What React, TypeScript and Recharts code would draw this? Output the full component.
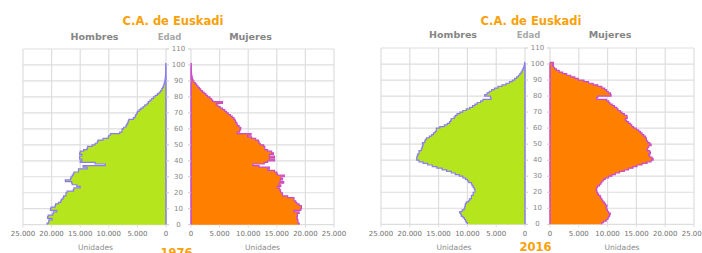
import React from 'react';
import { AreaChart, Area, XAxis, YAxis, CartesianGrid, ReferenceLine } from 'recharts';

// Population by single year of age (index = age, last entry closes the outline)
const hombres1976 = [
  20800, 20500, 20500, 19900, 20700, 20600, 19800, 19700, 19100, 20200,
  20100, 19400, 19300, 18800, 18400, 18300, 18000, 17900, 17500, 17500,
  17300, 16200, 16100, 15000, 15600, 16400, 16500, 17600, 16700, 16600,
  16400, 16200, 16100, 15300, 15300, 13800, 14500, 10600, 12400, 15000,
  14700, 15100, 15100, 14700, 15100, 15000, 14400, 13800, 13700, 12900,
  12400, 12000, 11900, 11000, 10100, 10000, 9700, 8100, 7700, 7700,
  7400, 7000, 6900, 6700, 6600, 6500, 5700, 5400, 5300, 5100,
  5000, 4700, 4400, 4000, 3700, 3300, 3100, 2800, 2500, 2200,
  1900, 1500, 1200, 950, 750, 600, 470, 370, 290, 220,
  170, 130, 100, 75, 55, 40, 28, 18, 10, 6,
  3, 0,
];

const mujeres1976 = [
  18900, 18700, 18700, 18600, 18500, 18600, 18600, 18900, 18000, 19200,
  19300, 19300, 18900, 18500, 18300, 18000, 18000, 16900, 16000, 16000,
  15700, 15600, 15500, 15100, 15700, 15400, 16200, 15600, 16000, 15700,
  16300, 15100, 15000, 14600, 13400, 13700, 11900, 10800, 12800, 13400,
  14600, 13700, 14600, 13700, 14400, 14100, 13400, 12900, 12900, 12700,
  12100, 11900, 11800, 11300, 10600, 9900, 10500, 8100, 8500, 8600,
  8700, 8400, 8100, 8000, 7800, 7700, 7500, 7200, 6900, 6500,
  6200, 5900, 5500, 5100, 4700, 4400, 5500, 3800, 3600, 3300,
  2900, 2600, 2300, 2000, 1700, 1450, 1200, 1000, 750, 500,
  350, 250, 180, 130, 90, 60, 40, 25, 15, 10,
  5, 0,
];

const hombres2016 = [
  10000, 10200, 10340, 10500, 10750, 11040, 11150, 11330, 10920, 10570,
  10460, 10400, 10340, 10170, 9760, 9590, 9300, 9300, 9000, 9000,
  8700, 8700, 8830, 9000, 9180, 9300, 9760, 9990, 10340, 10800,
  11400, 12100, 12800, 13600, 14400, 15300, 16100, 16900, 17700, 18400,
  18800, 18800, 18700, 18600, 18400, 18400, 18000, 17900, 17800, 17700,
  17800, 17400, 17300, 17100, 16600, 16200, 15900, 15600, 15400, 15400,
  14800, 14000, 13500, 13100, 12900, 12800, 12300, 12100, 11800, 11300,
  10800, 10200, 9600, 9100, 8700, 8300, 7700, 7300, 5900, 6000,
  7000, 6600, 6200, 5800, 5300, 4700, 4000, 3300, 2700, 2200,
  1800, 1450, 1150, 900, 700, 520, 380, 260, 160, 90,
  50, 0,
];

const mujeres2016 = [
  9000, 9300, 9760, 10050, 10170, 10340, 10460, 10170, 9990, 9880,
  9760, 9880, 9590, 9410, 9180, 9000, 8830, 8720, 8420, 8250,
  8130, 8020, 8130, 8250, 8600, 8830, 9000, 9300, 9590, 10170,
  10750, 11330, 12080, 12900, 13650, 14400, 15100, 15980, 16850, 17550,
  17900, 17720, 17310, 17140, 17430, 17310, 16850, 16970, 17140, 17550,
  17310, 16970, 16730, 16730, 16560, 16270, 15980, 15690, 15400, 14990,
  14520, 14200, 14000, 13650, 13300, 13070, 13400, 13360, 12900, 12500,
  12200, 11800, 11600, 11200, 10800, 10400, 10200, 9800, 8100, 8300,
  10600, 10500, 10100, 9800, 9500, 9000, 8300, 7500, 6700, 5900,
  4900, 4300, 3600, 2900, 2200, 1600, 1100, 800, 600, 450,
  600, 0,
];

const xTicks = [0, 5000, 10000, 15000, 20000, 25000];
const yTicks = [0, 10, 20, 30, 40, 50, 60, 70, 80, 90, 100, 110];

const FONT = '"DejaVu Sans", Verdana, sans-serif';
const GREEN = '#b5e61d';
const ORANGE = '#ff7f00';
const BLUE = '#8a7cf0';
const PURPLE = '#c84ad0';
const GRID = '#dedede';

const fmt = (v: number) => String(v).replace(/\B(?=(\d{3})+(?!\d))/g, '.');

const PAD_L = 22;
const PAD_R = 22;
const PAD_T = 10;
const PAD_B = 22;
const X_AXIS_H = 18;
const Y_AXIS_W = 10;

function Half(props: {
  values: number[];
  male: boolean;
  px: number;
  py: number;
  pw: number;
  ph: number;
  fill: string;
  stroke: string;
  gap: number;
}) {
  const { values, male, px, py, pw, ph, fill, stroke, gap } = props;
  const data = values.map((v, i) => ({ age: i, v }));
  const topAge = values.length - 1;
  const renderTick = (tp: any) => {
    const { y, payload } = tp;
    const edge = male ? PAD_L + pw : PAD_L;
    if (male) {
      return (
        <g>
          <line x1={edge} x2={edge + 3} y1={y} y2={y} stroke="#c8c8c8" strokeWidth={1} />
          <text
            x={edge + gap / 2}
            y={y}
            textAnchor="middle"
            dominantBaseline="central"
            fontSize={7}
            fontFamily={FONT}
            fill="#888"
          >
            {payload.value}
          </text>
        </g>
      );
    }
    return <line x1={edge - 3} x2={edge} y1={y} y2={y} stroke="#c8c8c8" strokeWidth={1} />;
  };
  return (
    <div style={{ position: 'absolute', left: px - PAD_L, top: py - PAD_T }}>
      <AreaChart
        layout="vertical"
        width={pw + PAD_L + PAD_R}
        height={ph + PAD_T + PAD_B}
        data={data}
        margin={{
          top: PAD_T,
          bottom: PAD_B - X_AXIS_H,
          left: male ? PAD_L : PAD_L - Y_AXIS_W,
          right: male ? PAD_R - Y_AXIS_W : PAD_R,
        }}
      >
        <CartesianGrid stroke={GRID} strokeWidth={1.2} />
        <XAxis
          type="number"
          dataKey="v"
          domain={[0, 25000]}
          ticks={xTicks}
          reversed={male}
          allowDataOverflow
          height={X_AXIS_H}
          axisLine={false}
          tickLine={{ stroke: GRID }}
          tickSize={3}
          tickMargin={3.5}
          tick={{ fontSize: 7, fill: '#727272', fontFamily: FONT }}
          tickFormatter={fmt}
          interval={0}
        />
        <YAxis
          type="number"
          dataKey="age"
          domain={[0, 110]}
          ticks={yTicks}
          reversed
          orientation={male ? 'right' : 'left'}
          width={Y_AXIS_W}
          axisLine={false}
          tickLine={false}
          tickSize={0}
          tickMargin={0}
          tick={renderTick}
          interval={0}
        />
        <Area
          type="stepBefore"
          dataKey="v"
          fill={fill}
          fillOpacity={1}
          stroke={stroke}
          strokeWidth={1.2}
          isAnimationActive={false}
          dot={false}
          activeDot={false}
        />
        <ReferenceLine
          segment={[
            { x: 0, y: 0 },
            { x: 0, y: topAge },
          ]}
          stroke={stroke}
          strokeWidth={1.5}
        />
      </AreaChart>
    </div>
  );
}

function Label(props: {
  x: number;
  y: number;
  text: string;
  size: number;
  color: string;
  bold?: boolean;
}) {
  const { x, y, text, size, color, bold } = props;
  return (
    <div
      style={{
        position: 'absolute',
        left: x,
        top: y,
        transform: 'translate(-50%, -50%)',
        fontFamily: FONT,
        fontSize: size,
        fontWeight: bold ? 'bold' : 'normal',
        color,
        whiteSpace: 'nowrap',
        lineHeight: 1,
      }}
    >
      {text}
    </div>
  );
}

function Pyramid(props: {
  male: number[];
  female: number[];
  year: string;
  mx: number;
  fx: number;
  top: number;
  pw: number;
  ph: number;
  titleX: number;
  headY: number;
  yearY: number;
}) {
  const { male, female, year, mx, fx, top, pw, ph, titleX, headY, yearY } = props;
  const gap = fx - (mx + pw);
  return (
    <>
      <Half values={male} male px={mx} py={top} pw={pw} ph={ph} fill={GREEN} stroke={BLUE} gap={gap} />
      <Half values={female} male={false} px={fx} py={top} pw={pw} ph={ph} fill={ORANGE} stroke={PURPLE} gap={gap} />
      <Label x={titleX} y={22} text="C.A. de Euskadi" size={11.5} color="#f8a10a" bold />
      <Label x={mx + pw / 2} y={headY} text="Hombres" size={9.5} color="#858585" bold />
      <Label x={mx + pw + gap / 2 - 9} y={headY} text="Edad" size={8.5} color="#a8a8a8" bold />
      <Label x={fx + pw / 2 - 12} y={headY} text="Mujeres" size={9.5} color="#858585" bold />
      <Label x={mx + pw / 2 + 1} y={248} text="Unidades" size={7.5} color="#8c8c8c" />
      <Label x={fx + pw / 2} y={248} text="Unidades" size={7.5} color="#8c8c8c" />
      <Label x={mx + pw + gap / 2 - 2} y={yearY} text={year} size={11.5} color="#f8a10a" bold />
    </>
  );
}

export default function App() {
  return (
    <div style={{ position: 'absolute', left: 0, top: 0, width: 702, height: 253, overflow: 'hidden', background: '#fff' }}>
      <Pyramid
        male={hombres1976}
        female={mujeres1976}
        year="1976"
        mx={23}
        fx={191}
        top={49}
        pw={143}
        ph={175.7}
        titleX={173}
        headY={37}
        yearY={253.5}
      />
      <Pyramid
        male={hombres2016}
        female={mujeres2016}
        year="2016"
        mx={381}
        fx={550}
        top={47.7}
        pw={144}
        ph={176.3}
        titleX={531}
        headY={35}
        yearY={248}
      />
    </div>
  );
}
